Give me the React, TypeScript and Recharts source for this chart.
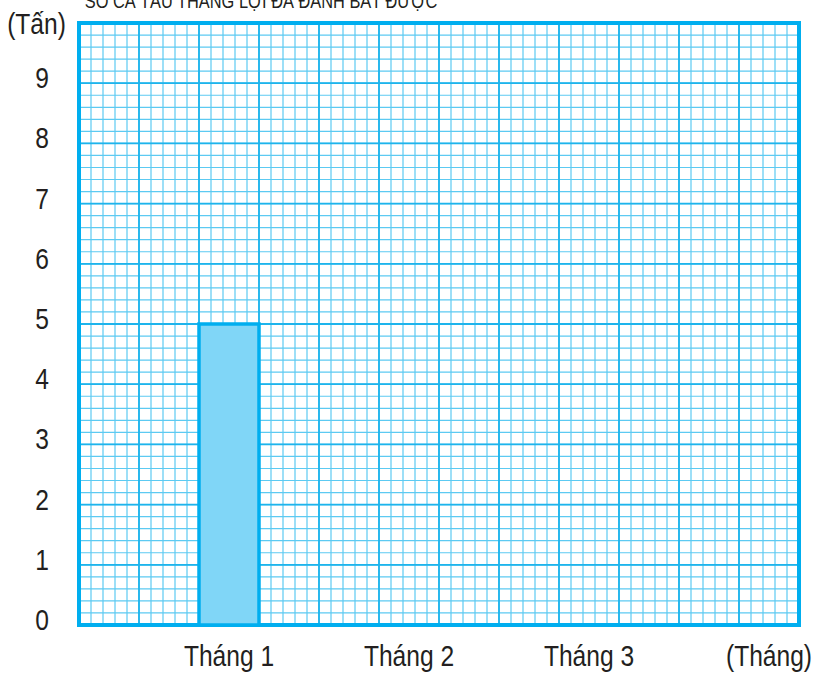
import { Bar, BarChart, CartesianGrid, ReferenceArea, XAxis, YAxis } from "recharts";

const title = "SỐ CÁ TÀU THẮNG LỢI ĐÃ ĐÁNH BẮT ĐƯỢC";
const months = ["Tháng 1", "Tháng 2", "Tháng 3"];
const catches: (number | null)[] = [5, null, null];
const yTicks = [0, 1, 2, 3, 4, 5, 6, 7, 8, 9];
const yUnit = "(Tấn)";
const xUnit = "(Tháng)";

const font = '"Liberation Sans", Arial, sans-serif';
const blue = "#00aeef";
const textColor = "#231f20";

// paper grid: 12 big squares across, 10 up, each split in 5
const COLS = 12;
const ROWS = 10;
const data = months.map((month, i) => ({ month, col: 2.5 + 3 * i, tan: catches[i] }));
const xTicks = [...data.map((d) => d.col), 2.5 + 3 * months.length];
const minorX = Array.from({ length: COLS * 5 + 1 }, (_, i) => i / 5);
const minorY = Array.from({ length: ROWS * 5 + 1 }, (_, i) => i / 5);
const majorX = Array.from({ length: COLS + 1 }, (_, i) => i);
const majorY = Array.from({ length: ROWS + 1 }, (_, i) => i);

// condensed sans look (no narrow font installed)
function Narrow({ x, y, size, children, anchor = "middle" }: any) {
  return (
    <text
      transform={`translate(${x},${y}) scale(0.82,1)`}
      textAnchor={anchor}
      fontFamily={font}
      fontSize={size}
      fill={textColor}
    >
      {children}
    </text>
  );
}

function XTick({ x, y, payload }: any) {
  const i = xTicks.indexOf(payload.value);
  const label = i < months.length ? months[i] : xUnit;
  return (
    <Narrow x={x} y={y + 39} size={30}>
      {label}
    </Narrow>
  );
}

function YTick({ y, payload }: any) {
  return (
    <Narrow x={42} y={y + 5} size={30}>
      {payload.value}
    </Narrow>
  );
}

export default function App() {
  return (
    <div style={{ position: "absolute", left: 0, top: 0, width: 818, height: 674, background: "#fff" }}>
      <BarChart width={818} height={674} data={data} margin={{ top: 23, right: 19, bottom: 0, left: 0 }}>
        <CartesianGrid horizontalValues={minorY} verticalValues={minorX} stroke="#5ccaf2" strokeWidth={1.2} />
        <CartesianGrid horizontalValues={majorY} verticalValues={majorX} stroke="#1db4ec" strokeWidth={1.8} />
        <XAxis
          type="number"
          dataKey="col"
          domain={[0, COLS]}
          ticks={xTicks}
          interval={0}
          height={49}
          axisLine={false}
          tickLine={false}
          tickSize={0}
          tick={<XTick />}
        />
        <YAxis
          type="number"
          domain={[0, ROWS]}
          ticks={yTicks}
          interval={0}
          width={79}
          axisLine={false}
          tickLine={false}
          tickSize={0}
          tick={<YTick />}
        />
        <ReferenceArea x1={0} x2={COLS} y1={0} y2={ROWS} fill="none" stroke={blue} strokeWidth={4} />
        <Bar dataKey="tan" barSize={60} fill="#80d6f7" stroke={blue} strokeWidth={3.5} isAnimationActive={false} />
        <Narrow x={261} y={8} size={20}>
          {title}
        </Narrow>
        <Narrow x={36.5} y={34} size={30}>
          {yUnit}
        </Narrow>
      </BarChart>
    </div>
  );
}
